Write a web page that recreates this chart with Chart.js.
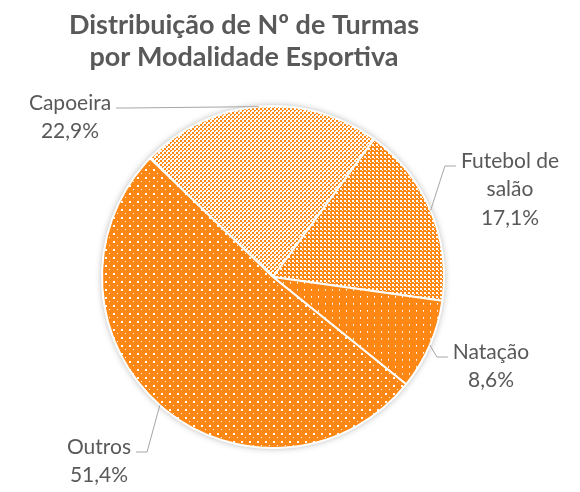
<!DOCTYPE html>
<html>
<head>
<meta charset="utf-8">
<script src="https://cdn.jsdelivr.net/npm/chart.js@4.4.1/dist/chart.umd.min.js"></script>
<style>
  html, body { margin: 0; padding: 0; background: #fff; }
</style>
</head>
<body>
<canvas id="myPieChart" width="580" height="492"></canvas>
<script>
const titleLines = ["Distribuição de Nº de Turmas", "por Modalidade Esportiva"];
const labels = [["Capoeira"], ["Futebol de", "salão"], ["Natação"], ["Outros"]];
const turmas = [8, 6, 3, 18];

// where Excel put each data label (text centre x, first line y) and which side the leader leaves from
const labelPlaces = [
  { x: 70, y: 103, side: "right" },
  { x: 510, y: 161, side: "left" },
  { x: 491, y: 352, side: "left" },
  { x: 99, y: 447, side: "right" },
];

const ORANGE = "rgb(255,136,20)";
const TEXT = "#595959";

function makePattern(w, h, paint) {
  const c = document.createElement("canvas");
  c.width = w;
  c.height = h;
  const g = c.getContext("2d");
  paint(g);
  return g.createPattern(c, "repeat");
}

function px(g, x, y, color, w, h) {
  g.fillStyle = color;
  g.fillRect(x, y, w || 1, h || w || 1);
}

const ctx = document.getElementById("myPieChart").getContext("2d");

// light checker (Capoeira)
const patCapoeira = makePattern(4, 4, (g) => {
  px(g, 0, 0, "#fff", 4);
  px(g, 0, 0, ORANGE, 2);
  px(g, 2, 2, ORANGE, 2);
  px(g, 3, 3, "#fff");
});
// denser checker (Futebol de salão)
const patFutebol = makePattern(4, 4, (g) => {
  px(g, 0, 0, ORANGE, 4);
  px(g, 0, 0, "#fff", 2);
  px(g, 2, 2, "#fff");
});
// sparse white ticks (Natação)
const patNatacao = makePattern(7, 7, (g) => {
  px(g, 0, 0, ORANGE, 7);
  px(g, 3, 2, "#fff");
  px(g, 3, 3, "rgba(255,255,255,0.7)");
});
// white dots grid (Outros)
const patOutros = makePattern(8, 8, (g) => {
  px(g, 0, 0, ORANGE, 8);
  px(g, 1, 1, "#fff", 2);
  px(g, 5, 5, "#fff");
});

const total = turmas.reduce((a, b) => a + b, 0);
const percents = turmas.map((v) => (v / total * 100).toFixed(1).replace(".", ",") + "%");

const pieExtras = {
  id: "pieExtras",
  beforeDatasetsDraw(chart) {
    const arc = chart.getDatasetMeta(0).data[0];
    const { x, y, outerRadius } = arc.getProps(["x", "y", "outerRadius"], true);
    const c = chart.ctx;
    c.save();
    c.shadowColor = "rgba(0,0,0,0.35)";
    c.shadowBlur = 7;
    c.fillStyle = "#fff";
    c.beginPath();
    c.arc(x, y, outerRadius, 0, Math.PI * 2);
    c.fill();
    c.restore();
  },
  afterDatasetsDraw(chart) {
    const c = chart.ctx;
    const meta = chart.getDatasetMeta(0);
    c.save();
    c.font = "21px Lato";
    c.textAlign = "center";
    c.textBaseline = "middle";
    meta.data.forEach((arc, i) => {
      const p = arc.getProps(["x", "y", "startAngle", "endAngle", "outerRadius"], true);
      const mid = (p.startAngle + p.endAngle) / 2;
      const ex = p.x + Math.cos(mid) * p.outerRadius;
      const ey = p.y + Math.sin(mid) * p.outerRadius;
      const place = labelPlaces[i];
      const lines = labels[i].concat([percents[i]]);

      const w = c.measureText(lines[0]).width;
      const dir = place.side === "right" ? 1 : -1;
      const sx = place.x + dir * (w / 2 + 5);
      const sy = place.y + 5;
      c.strokeStyle = "#a6a6a6";
      c.lineWidth = 1;
      c.beginPath();
      c.moveTo(sx, sy);
      c.lineTo(sx + dir * 11, sy);
      c.lineTo(ex, ey);
      c.stroke();

      c.fillStyle = TEXT;
      lines.forEach((t, k) => c.fillText(t, place.x, place.y + k * 28.5));
    });
    c.restore();
  },
  afterDraw(chart) {
    const c = chart.ctx;
    c.save();
    c.font = "bold 27px Lato";
    c.fillStyle = TEXT;
    c.textAlign = "center";
    c.textBaseline = "middle";
    c.fillText(titleLines[0], 244, 25);
    c.fillText(titleLines[1], 244, 57);
    c.restore();
  },
};

new Chart(ctx, {
  type: "pie",
  data: {
    labels: labels,
    datasets: [
      {
        data: turmas,
        backgroundColor: [patCapoeira, patFutebol, patNatacao, patOutros],
        borderColor: "#fff",
        borderWidth: 2,
      },
    ],
  },
  options: {
    responsive: false,
    animation: false,
    devicePixelRatio: 1,
    rotation: -46,
    layout: { padding: { left: 101, right: 135, top: 105, bottom: 43 } },
    plugins: {
      legend: { display: false },
      tooltip: { enabled: false },
      title: { display: false },
    },
  },
  plugins: [pieExtras],
});
</script>
</body>
</html>
